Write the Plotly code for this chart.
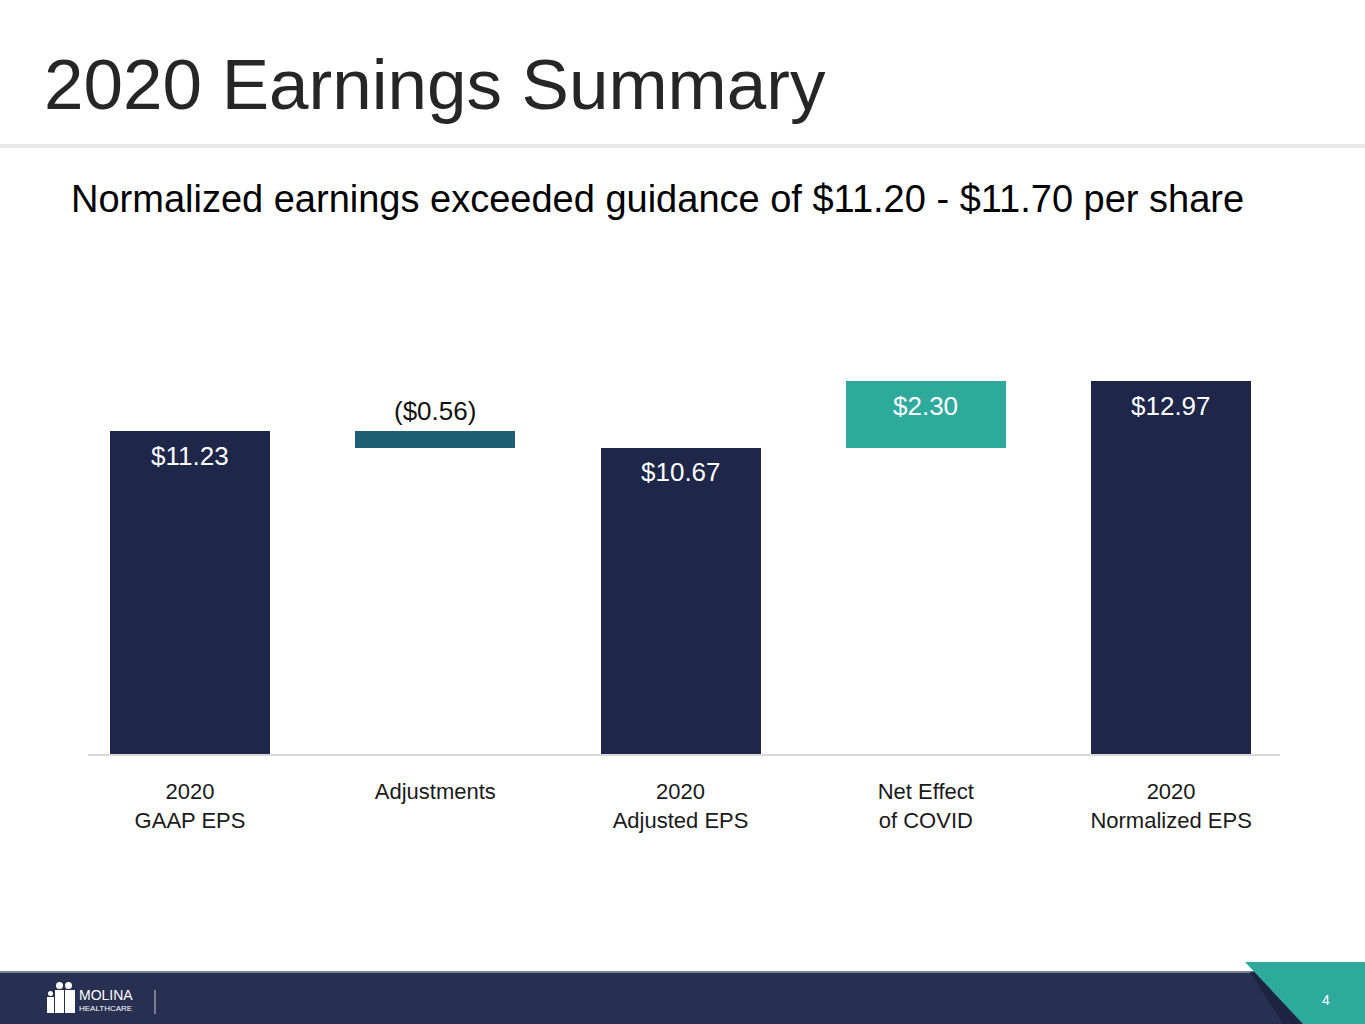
import plotly.graph_objects as go

W, H = 1365, 1024

# ---- data ----
categories = ["2020<br>GAAP EPS", "Adjustments", "2020<br>Adjusted EPS",
              "Net Effect<br>of COVID", "2020<br>Normalized EPS"]
gaap_eps = 11.23
adjustments = -0.56
adjusted_eps = 10.67
covid_effect = 2.30
normalized_eps = 12.97
value_labels = ["$11.23", "($0.56)", "$10.67", "$2.30", "$12.97"]

bar_bases = [0, gaap_eps + adjustments, 0, adjusted_eps, 0]
bar_heights = [gaap_eps, -adjustments, adjusted_eps, covid_effect, normalized_eps]

NAVY = "#1e2649"
ADJ = "#1f5f74"
TEAL = "#2daa9c"
bar_colors = [NAVY, ADJ, NAVY, TEAL, NAVY]

FONT = "Liberation Sans, Arial, sans-serif"


def px_x(x):
    return x / W


def px_y(y):
    return 1 - y / H


fig = go.Figure()
fig.add_trace(go.Bar(
    x=categories, y=bar_heights, base=bar_bases,
    marker=dict(color=bar_colors, line=dict(width=0)),
    width=0.652, hoverinfo="skip", showlegend=False,
))

annotations = []
for i, cat in enumerate(categories):
    top = bar_bases[i] + bar_heights[i]
    if i == 1:
        annotations.append(dict(x=cat, y=top, xref="x", yref="y", text=value_labels[i],
                                showarrow=False, yanchor="middle", yshift=20,
                                font=dict(family=FONT, size=26, color="#111111")))
    else:
        annotations.append(dict(x=cat, y=top, xref="x", yref="y", text=value_labels[i],
                                showarrow=False, yanchor="middle", yshift=-25,
                                font=dict(family=FONT, size=26, color="#ffffff")))

# title & subtitle
annotations.append(dict(x=px_x(42), y=px_y(84), xref="paper", yref="paper",
                        text="2020 Earnings Summary", showarrow=False,
                        xanchor="left", yanchor="middle",
                        font=dict(family=FONT, size=71, color="#262626")))
annotations.append(dict(x=px_x(69), y=px_y(199), xref="paper", yref="paper",
                        text="Normalized earnings exceeded guidance of $11.20 - $11.70 per share",
                        showarrow=False, xanchor="left", yanchor="middle",
                        font=dict(family=FONT, size=38, color="#000000")))
# footer texts
annotations.append(dict(x=px_x(77), y=px_y(995), xref="paper", yref="paper",
                        text="MOLINA", showarrow=False, xanchor="left", yanchor="middle",
                        font=dict(family=FONT, size=14, color="#ffffff")))
annotations.append(dict(x=px_x(77), y=px_y(1008), xref="paper", yref="paper",
                        text="HEALTHCARE", showarrow=False, xanchor="left", yanchor="middle",
                        font=dict(family=FONT, size=8, color="#ffffff")))
annotations.append(dict(x=px_x(1326), y=px_y(1000), xref="paper", yref="paper",
                        text="4", showarrow=False, xanchor="center", yanchor="middle",
                        font=dict(family=FONT, size=14, color="#ffffff")))

shapes = [
    # header rule
    dict(type="rect", xref="paper", yref="paper", x0=0, x1=1, y0=px_y(148), y1=px_y(144),
         fillcolor="#e9e9e9", line=dict(width=0), layer="below"),
    # footer band
    dict(type="rect", xref="paper", yref="paper", x0=0, x1=1, y0=0, y1=px_y(972),
         fillcolor="#283052", line=dict(width=0)),
    dict(type="rect", xref="paper", yref="paper", x0=0, x1=px_x(1255), y0=px_y(973), y1=px_y(971),
         fillcolor="#7d8296", line=dict(width=0)),
    # dark shadow strip
    dict(type="path", xref="paper", yref="paper",
         path=f"M {px_x(1250)},{px_y(972)} L {px_x(1268)},{px_y(972)} L {px_x(1303)},{px_y(1024)} "
              f"L {px_x(1283)},{px_y(1024)} Z",
         fillcolor="#1d2542", line=dict(width=0)),
    # teal corner
    dict(type="path", xref="paper", yref="paper",
         path=f"M {px_x(1245)},{px_y(962)} L 1,{px_y(962)} L 1,0 L {px_x(1303)},0 Z",
         fillcolor=TEAL, line=dict(width=0)),
    # logo divider
    dict(type="line", xref="paper", yref="paper", x0=px_x(155), x1=px_x(155),
         y0=px_y(990), y1=px_y(1014), line=dict(color="#c8cad4", width=1)),
    # logo figures (heads)
    dict(type="circle", xref="paper", yref="paper", x0=px_x(56), x1=px_x(63),
         y0=px_y(989), y1=px_y(982), fillcolor="#ffffff", line=dict(width=0)),
    dict(type="circle", xref="paper", yref="paper", x0=px_x(65), x1=px_x(72),
         y0=px_y(989), y1=px_y(982), fillcolor="#ffffff", line=dict(width=0)),
    dict(type="circle", xref="paper", yref="paper", x0=px_x(48), x1=px_x(53),
         y0=px_y(996), y1=px_y(991), fillcolor="#ffffff", line=dict(width=0)),
    # bodies
    dict(type="rect", xref="paper", yref="paper", x0=px_x(47), x1=px_x(54),
         y0=px_y(1013), y1=px_y(997), fillcolor="#ffffff", line=dict(width=0)),
    dict(type="rect", xref="paper", yref="paper", x0=px_x(55), x1=px_x(64),
         y0=px_y(1013), y1=px_y(990), fillcolor="#ffffff", line=dict(width=0)),
    dict(type="rect", xref="paper", yref="paper", x0=px_x(65), x1=px_x(75),
         y0=px_y(1013), y1=px_y(990), fillcolor="#ffffff", line=dict(width=0)),
]

fig.update_layout(
    width=W, height=H,
    margin=dict(l=0, r=0, t=0, b=0),
    paper_bgcolor="#ffffff", plot_bgcolor="#ffffff",
    showlegend=False, hovermode=False,
    annotations=annotations, shapes=shapes,
    bargap=0,
    xaxis=dict(domain=[px_x(88), px_x(1280)], range=[-0.416, 4.444],
               showline=True, linecolor="#d9d9d9", linewidth=1.5,
               ticks="outside", ticklen=17, tickcolor="rgba(0,0,0,0)",
               tickfont=dict(family=FONT, size=22, color="#1a1a1a"),
               showgrid=False, zeroline=False, fixedrange=True),
    yaxis=dict(domain=[1 - 754 / H, 1 - 322.6 / H], range=[0, 15],
               visible=False, fixedrange=True),
)

fig.write_html("out.html", config={"displayModeBar": False},
               post_script="document.body.style.margin='0';document.body.style.overflow='hidden';")
